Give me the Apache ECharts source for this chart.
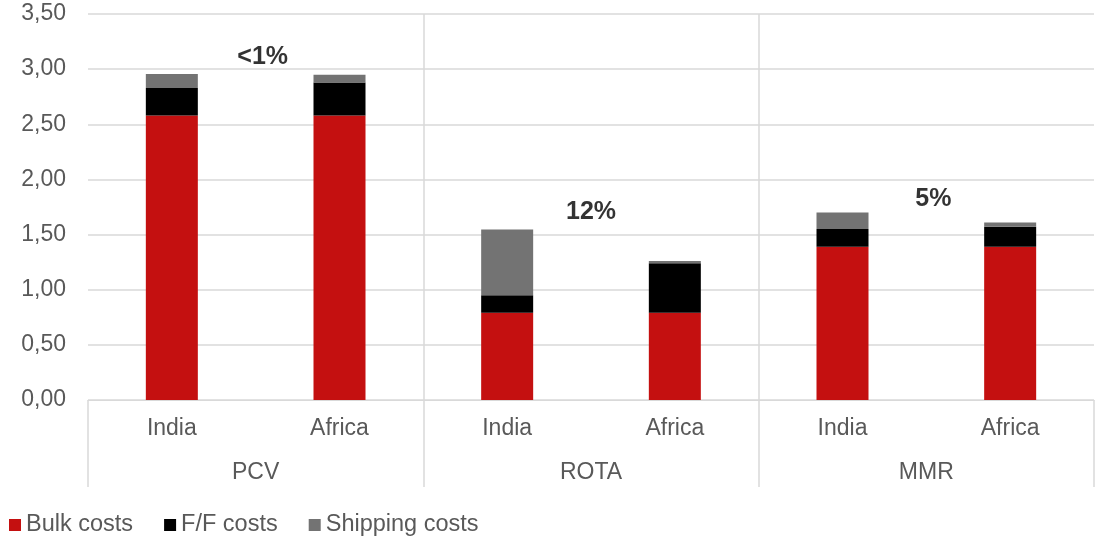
<!DOCTYPE html>
<html>
<head>
<meta charset="utf-8">
<script src="https://cdn.jsdelivr.net/npm/echarts@6/dist/echarts.min.js"></script>
<style>
  html, body { margin: 0; padding: 0; background: #fff; }
  #chart { width: 1095px; height: 537px; }
</style>
</head>
<body>
<div id="chart"></div>
<script>
// categories
var markets = ['India', 'Africa', 'India', 'Africa', 'India', 'Africa'];
var groups = ['PCV', 'ROTA', 'MMR'];

// stacked values
var bulkCosts = [2.58, 2.58, 0.79, 0.79, 1.39, 1.39];
var ffCosts = [0.25, 0.30, 0.16, 0.45, 0.16, 0.18];
var shippingCosts = [0.125, 0.07, 0.595, 0.02, 0.15, 0.04];

// share annotations per group
var shareText = ['<1%', '12%', '5%'];
var shareY = [3.11, 1.70, 1.82];

var gridColor = '#d9d9d9';
var textColor = '#595959';
var font = "'Liberation Sans', Arial, sans-serif";

var myChart = echarts.init(document.getElementById('chart'));

var option = {
    animation: false,
    textStyle: { fontFamily: font },
    legend: {
        data: ['Bulk costs', 'F/F costs', 'Shipping costs'],
        left: 4,
        bottom: 0,
        padding: [0, 5],
        icon: 'rect',
        itemWidth: 12,
        itemHeight: 12,
        itemGap: 31,
        textStyle: { color: textColor, fontSize: 23.5, fontFamily: font }
    },
    grid: {
        left: 88,
        right: 1,
        top: 14,
        bottom: 137
    },
    xAxis: [{
        type: 'category',
        data: markets,
        axisLine: { show: true, lineStyle: { color: gridColor, width: 1 } },
        axisTick: { show: false },
        axisLabel: { color: textColor, fontSize: 23, margin: 17, fontFamily: font }
    }, {
        type: 'category',
        data: groups,
        position: 'bottom',
        axisLine: { show: false },
        axisTick: {
            show: true,
            interval: 0,
            length: 87,
            lineStyle: { color: gridColor, width: 1.5 }
        },
        splitLine: {
            show: true,
            interval: 0,
            showMinLine: false,
            showMaxLine: false,
            lineStyle: { color: gridColor, width: 1.5 }
        },
        axisLabel: { color: textColor, fontSize: 23, margin: 61, fontFamily: font }
    }],
    yAxis: {
        type: 'value',
        min: 0,
        max: 3.5,
        interval: 0.5,
        axisLine: { show: false },
        axisTick: { show: false },
        splitLine: { lineStyle: { color: gridColor, width: 1.5 } },
        axisLabel: {
            color: textColor,
            fontSize: 23,
            margin: 22,
            fontFamily: font,
            formatter: function (v) { return v.toFixed(2).replace('.', ','); }
        }
    },
    series: [{
        name: 'Bulk costs',
        type: 'bar',
        stack: 'cost',
        barWidth: 52,
        itemStyle: { color: '#c41010' },
        data: bulkCosts
    }, {
        name: 'F/F costs',
        type: 'bar',
        stack: 'cost',
        barWidth: 52,
        itemStyle: { color: '#000000' },
        data: ffCosts
    }, {
        name: 'Shipping costs',
        type: 'bar',
        stack: 'cost',
        barWidth: 52,
        itemStyle: { color: '#737373' },
        data: shippingCosts
    }, {
        name: 'share',
        type: 'scatter',
        xAxisIndex: 1,
        symbolSize: 0,
        silent: true,
        label: {
            show: true,
            position: 'inside',
            color: '#000',
            fontSize: 25,
            fontWeight: 'bold',
            fontFamily: font,
            formatter: function (p) { return shareText[p.dataIndex]; }
        },
        data: groups.map(function (g, i) {
            return { value: [g, shareY[i]], label: { offset: [i === 1 ? 0 : 7, 0] } };
        })
    }]
};

myChart.setOption(option);
</script>
</body>
</html>
